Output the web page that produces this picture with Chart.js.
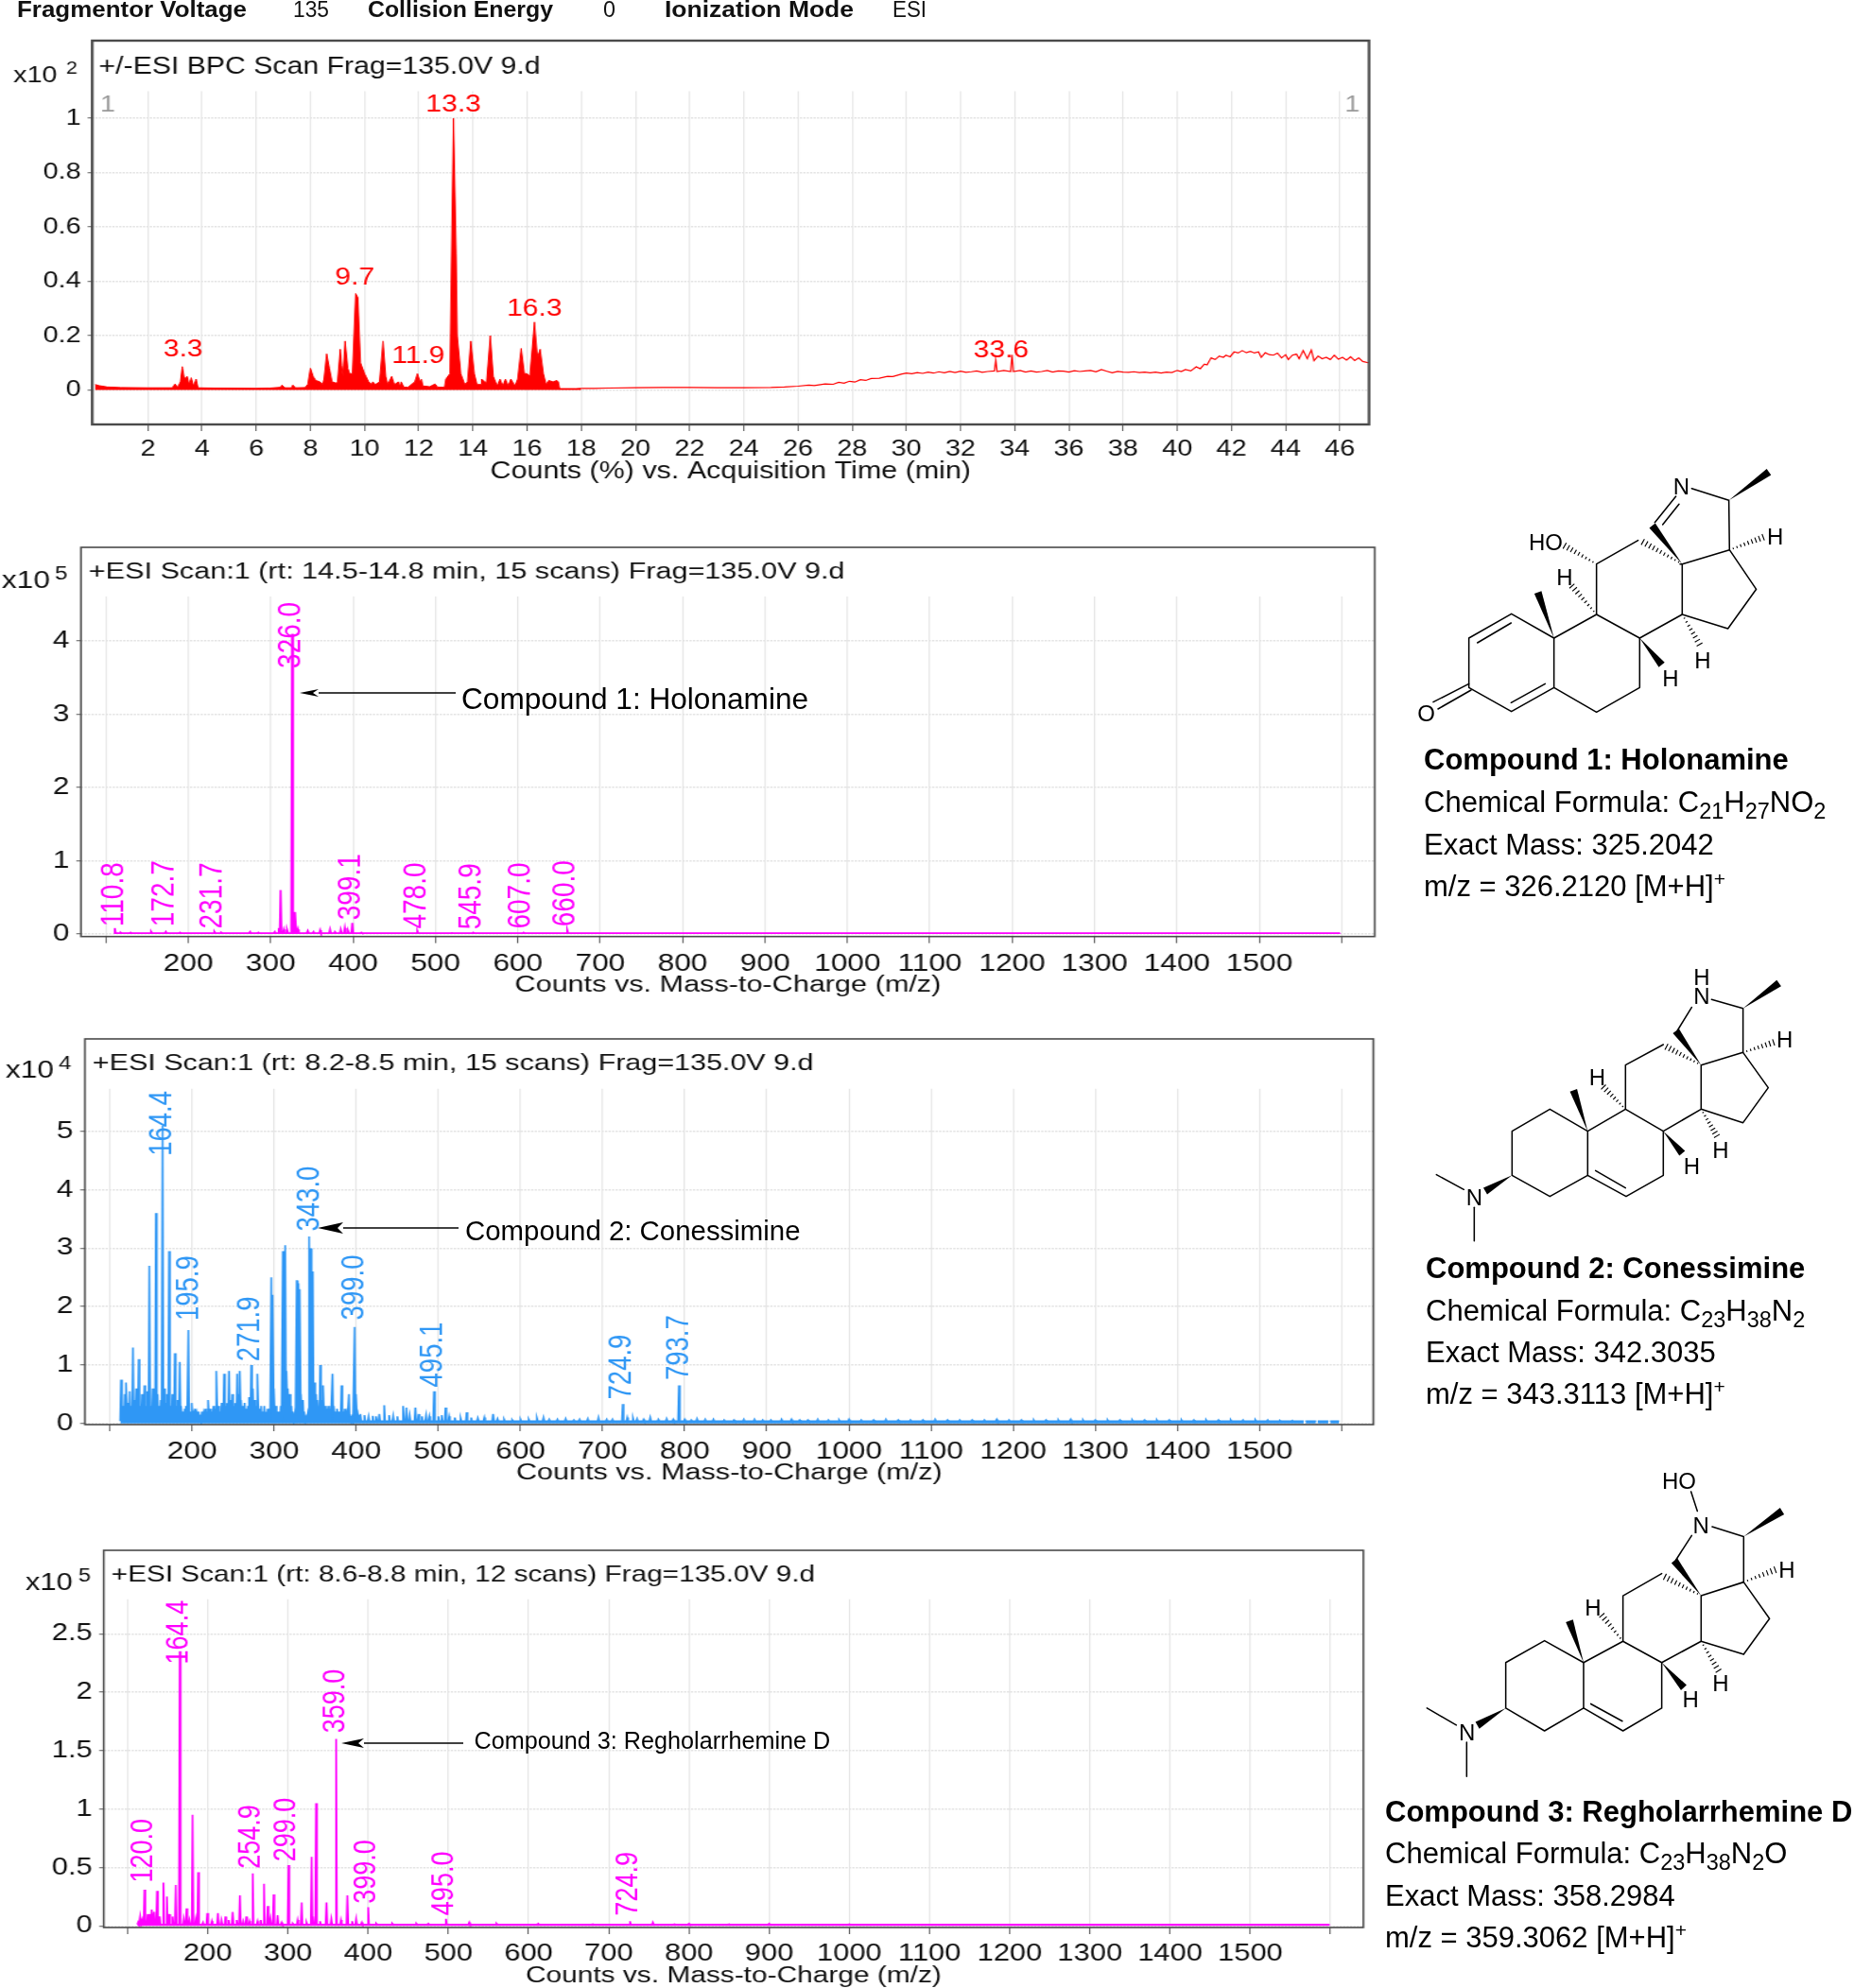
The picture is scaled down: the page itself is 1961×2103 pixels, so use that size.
<!DOCTYPE html>
<html>
<head>
<meta charset="utf-8">
<title>Spectra</title>
<script src="https://cdn.jsdelivr.net/npm/chart.js@4"></script>
<style>
html, body { margin: 0; background: #fff; }
#page { position: relative; width: 1961px; height: 2103px; overflow: hidden; background: #fff; }
canvas { position: absolute; left: 0; transform-origin: 0 0; }
svg { position: absolute; left: 0; top: 0; }
</style>
</head>
<body>
<div id="page"></div>
<script>
// --- tick values
const timeTicks = [2,4,6,8,10,12,14,16,18,20,22,24,26,28,30,32,34,36,38,40,42,44,46];
const mzTicks = [100,200,300,400,500,600,700,800,900,1000,1100,1200,1300,1400,1500,1600];
const mzUnlabelled = [100,1600];
const bpcYTicks = [0,0.2,0.4,0.6,0.8,1];
const holoYTicks = [0,1,2,3,4];
const coneYTicks = [0,1,2,3,4,5];
const regYTicks = [0,0.5,1,1.5,2,2.5];

// --- chromatogram (BPC), x10^2 counts vs minutes
const bpcTime = [0.05,0.2,0.5,1,2,2.9,3.0,3.1,3.2,3.27,3.35,3.45,3.52,3.6,3.68,3.78,3.85,4.5,6,6.5,6.9,6.95,7.05,7.3,7.35,7.45,7.8,7.9,8.0,8.1,8.2,8.35,8.45,8.5,8.6,8.7,8.8,8.95,9.0,9.1,9.15,9.2,9.28,9.38,9.45,9.55,9.67,9.75,9.85,10.0,10.15,10.25,10.3,10.4,10.55,10.68,10.78,10.85,11,11.1,11.25,11.3,11.35,11.45,11.6,11.85,11.95,12.05,12.1,12.15,12.4,12.6,12.7,12.95,13.0,13.15,13.28,13.38,13.42,13.55,13.7,13.8,13.92,14.05,14.15,14.3,14.32,14.5,14.64,14.75,14.9,15,15.1,15.2,15.3,15.4,15.55,15.65,15.78,15.9,16.0,16.1,16.27,16.38,16.48,16.6,16.7,16.8,16.95,17.1,17.15,17.2,17.8,18];
const bpcCounts = [0.02,0.016,0.011,0.009,0.008,0.008,0.022,0.01,0.03,0.086,0.04,0.05,0.02,0.045,0.015,0.04,0.008,0.007,0.006,0.007,0.01,0.018,0.008,0.008,0.018,0.008,0.009,0.02,0.08,0.05,0.035,0.03,0.02,0.04,0.133,0.08,0.03,0.025,0.03,0.15,0.09,0.05,0.18,0.08,0.06,0.06,0.355,0.34,0.1,0.06,0.03,0.02,0.03,0.02,0.03,0.18,0.05,0.02,0.05,0.02,0.03,0.012,0.03,0.01,0.01,0.03,0.06,0.03,0.04,0.015,0.012,0.022,0.01,0.01,0.04,0.06,1.0,0.5,0.2,0.06,0.02,0.03,0.18,0.06,0.02,0.02,0.04,0.025,0.2,0.05,0.015,0.04,0.015,0.04,0.015,0.04,0.015,0.04,0.153,0.06,0.06,0.05,0.25,0.12,0.15,0.06,0.02,0.035,0.03,0.035,0.03,0.005,0.005,0.006];
const driftTime = [18,18.5,19,20,21,22,23,24,25,25.5,26,26.4,26.6,27,27.3,27.5,27.7,27.9,28.1,28.3,28.5,28.7,29,29.3,29.5,29.8,30,30.2,30.4,30.6,30.8,31,31.2,31.4,31.6,31.8,32,32.2,32.4,32.6,32.8,33,33.25,33.3,33.35,33.6,33.85,33.9,33.95,34.2,34.4,34.6,34.8,35,35.2,35.4,35.6,35.8,36,36.2,36.4,36.6,36.8,37,37.2,37.4,37.6,37.8,38,38.2,38.4,38.6,38.8,39,39.2,39.4,39.6,39.8,40,40.15,40.3,40.5,40.7,40.85,41,41.1,41.25,41.4,41.55,41.7,41.8,41.95,42.1,42.25,42.4,42.55,42.7,42.85,43,43.1,43.25,43.4,43.55,43.7,43.85,44,44.1,44.25,44.4,44.5,44.65,44.8,44.95,45.05,45.2,45.35,45.5,45.65,45.8,45.95,46.1,46.25,46.4,46.55,46.7,46.85,47.05];
const driftCounts = [0.006,0.006,0.007,0.008,0.009,0.009,0.008,0.008,0.009,0.011,0.014,0.018,0.016,0.022,0.021,0.028,0.025,0.032,0.029,0.038,0.035,0.042,0.043,0.05,0.049,0.058,0.062,0.06,0.064,0.061,0.066,0.062,0.067,0.063,0.068,0.064,0.069,0.065,0.067,0.07,0.065,0.068,0.07,0.11,0.068,0.072,0.068,0.13,0.068,0.072,0.066,0.07,0.066,0.068,0.072,0.066,0.07,0.069,0.066,0.071,0.068,0.07,0.072,0.067,0.075,0.069,0.063,0.068,0.066,0.065,0.067,0.064,0.066,0.063,0.066,0.062,0.066,0.064,0.072,0.068,0.075,0.07,0.085,0.078,0.095,0.092,0.118,0.112,0.125,0.12,0.128,0.122,0.14,0.136,0.145,0.137,0.142,0.136,0.14,0.12,0.137,0.13,0.128,0.136,0.118,0.13,0.112,0.128,0.132,0.115,0.145,0.115,0.147,0.108,0.125,0.115,0.12,0.112,0.128,0.113,0.12,0.11,0.122,0.108,0.118,0.105,0.1];
const bpcLabels = ['3.3','9.7','11.9','13.3','16.3','33.6'];
const bpcLabelX = [3.3,9.64,11.98,13.28,16.27,33.5];
const bpcLabelY = [0.103,0.368,0.078,1.006,0.255,0.1];

// --- compound 1 spectrum, x10^5
const holoMz = [110.8,118,130,155,172.7,190,231.7,240,275,285,305,310,312,316,320,326,328,330,333,345,352,360,372,378,385,390,394,399.1,410,478,520,545.9,607,660,1598];
const holoInt = [0.08,0.02,0.02,0.03,0.03,0.02,0.03,0.02,0.03,0.02,0.03,0.08,0.6,0.06,0.05,4.1,0.3,0.3,0.06,0.04,0.03,0.05,0.06,0.03,0.06,0.08,0.04,0.15,0.02,0.04,0.015,0.02,0.02,0.05,0.012];
const holoLabels = ['110.8','172.7','231.7','326.0','399.1','478.0','545.9','607.0','660.0'];
const holoLabelX = [110,171,229.8,324.6,397.8,476.7,544,604,658];
const holoLabelY = [0.1,0.1,0.07,3.63,0.19,0.07,0.06,0.07,0.1];

// --- compound 2 spectrum, x10^4
const coneMz = [113.5,116,118,120,122,124,126,128,130,132,133,135,137,139,141,142,144,146,148,150,152,154,156,158,160,162,164,166,168,170,172,174,176,177,179,181,183,185,187,189,191,193,195.5,198,200,202,204,206,208,210,212,214,216,218,220,222,224,226,228,230,232,234,236,239,241,243,245,247,249,251,253,255,257,258.5,260,262,264,266,268,270,272,274,276,278,280,282,284,286,288,290,292,294,296.5,298.5,300,302,304,306,308,310.6,313.5,315.5,317,319,321,323,325,327.5,329.5,331.5,333,335,337,339,341,343,344.5,347,349,351,353,356,358,360,362,364,366,368,371,373,375,377,379,382,384,386,388,391,393,395,398,400,402,405,410,415,420,424,428,434,440,445,450,457,461,465,472,476,480,485,489,494.7,500,504,508.7,513,520,527,534.4,540,548,556,566.6,572,580,590,600,610,620,628,635,645,655,665,672,682,695,705,712,724.5,730,737,742,750,758,768,778,786,793,800,808,815,825,835,848,860,872,885,895,905,918,930,940,950,962,975,988,1000,1015,1030,1045,1060,1075,1090,1105,1120,1135,1150,1165,1180,1195,1210,1225,1240,1255,1270,1285,1300,1315,1330,1345,1360,1375,1390,1405,1420,1435,1450,1465,1480,1495,1510,1525,1540,1555,1570,1585,1598];
const coneInt = [0.75,0.3,0.5,0.7,0.35,0.55,0.3,1.3,0.4,0.6,0.35,1.1,0.3,0.5,0.4,0.65,0.3,0.55,2.7,0.3,0.6,0.3,3.6,0.5,0.3,0.4,5.1,0.6,0.35,0.5,2.95,0.3,0.5,0.25,1.2,0.3,0.4,1.05,0.3,0.2,0.25,0.3,1.6,0.2,0.35,0.15,0.25,0.15,0.2,0.15,0.2,0.15,0.25,0.2,0.4,0.25,0.2,0.3,0.25,0.9,0.3,0.2,0.35,0.85,0.3,0.35,0.9,0.4,0.5,0.3,0.35,0.85,0.5,0.9,0.4,0.3,0.35,0.25,0.3,0.45,1.0,0.6,0.4,0.3,0.85,0.25,0.3,0.2,0.3,0.2,0.25,0.15,2.5,2.2,0.6,0.3,0.2,0.2,0.3,2.95,3.05,0.9,0.6,0.5,0.3,0.2,0.15,2.45,2.4,2.3,0.5,0.4,0.2,0.1,0.15,3.2,3.0,2.6,0.7,0.5,0.4,1.0,0.4,0.65,0.3,0.25,0.3,0.25,0.85,0.3,0.2,0.25,0.2,0.65,0.2,0.25,0.15,0.5,0.15,0.1,1.65,0.5,0.14,0.16,0.14,0.12,0.13,0.12,0.16,0.31,0.14,0.13,0.12,0.3,0.27,0.14,0.27,0.16,0.12,0.14,0.12,0.55,0.12,0.14,0.27,0.12,0.1,0.09,0.19,0.1,0.09,0.1,0.16,0.08,0.07,0.06,0.07,0.07,0.09,0.1,0.07,0.07,0.08,0.06,0.07,0.08,0.1,0.07,0.07,0.33,0.1,0.09,0.08,0.07,0.1,0.07,0.08,0.07,0.65,0.07,0.06,0.08,0.07,0.07,0.06,0.06,0.07,0.07,0.06,0.06,0.07,0.07,0.06,0.06,0.07,0.06,0.06,0.07,0.06,0.06,0.07,0.06,0.06,0.06,0.07,0.06,0.06,0.06,0.06,0.07,0.06,0.06,0.06,0.06,0.06,0.07,0.06,0.06,0.06,0.06,0.06,0.06,0.06,0.06,0.06,0.06,0.06,0.06,0.06,0.06,0.06,0.06,0.05,0.05];
const coneLabels = ['164.4','195.9','271.9','343.0','399.0','495.1','724.9','793.7'];
const coneLabelX = [164,195.9,271.5,343,398.5,494,724,793];
const coneLabelY = [4.58,1.76,1.06,3.29,1.77,0.62,0.41,0.74];

// --- compound 3 spectrum, x10^5
const regMz = [113,115.6,118,121,125,128,130,133,136.7,140,144.6,149,152,156,160,165,170,173.5,177,181,185,188,194,199.4,205,212.6,217,222,226,231,236,240,244,248,252,256,262,266,270,274.7,278,282,287,292,300.6,306,312,317,323,329.5,331,335,340,348,354,360,366,374,380,385,392,400,410,430,460,475,497,526,560,612,680,726.5,755,782,800,850,900,1000,1100,1200,1300,1400,1500,1598];
const regInt = [0.03,0.08,0.05,0.31,0.1,0.1,0.14,0.12,0.3,0.08,0.37,0.25,0.1,0.08,0.35,2.35,0.06,0.15,0.05,0.95,0.06,0.46,0.03,0.11,0.04,0.11,0.05,0.08,0.05,0.12,0.05,0.26,0.04,0.08,0.04,0.45,0.04,0.05,0.36,0.17,0.06,0.27,0.09,0.03,0.52,0.02,0.05,0.2,0.03,0.59,0.08,1.05,0.04,0.2,0.06,1.6,0.05,0.26,0.04,0.06,0.03,0.16,0.02,0.02,0.02,0.02,0.06,0.03,0.02,0.02,0.015,0.04,0.03,0.015,0.02,0.015,0.02,0.015,0.012,0.012,0.012,0.012,0.012,0.01];
const regLabels = ['120.0','164.4','254.9','299.0','359.0','399.0','495.0','724.9'];
const regLabelX = [120,164,254.5,299,359,398.5,495,725];
const regLabelY = [0.37,2.24,0.49,0.55,1.65,0.19,0.09,0.086];

// turn stick lists into a profile the line dataset can draw
function sticks(mz, vals, floor, halfWidth) {
    const pts = [];
    mz.forEach((m, i) => {
        pts.push({ x: m - halfWidth, y: floor }, { x: m, y: vals[i] }, { x: m + halfWidth, y: floor });
    });
    return pts;
}
function pairs(xs, ys) {
    return xs.map((x, i) => ({ x: x, y: ys[i] }));
}

const FONT = '"Liberation Sans", Arial, sans-serif';
const page = document.getElementById('page');

// draws frame, header, multiplier and peak labels on top of what Chart.js draws
const panelDecor = {
    id: 'panelDecor',
    afterDatasetsDraw(chart, args, o) {
        const ctx = chart.ctx, a = chart.chartArea;
        const s = o.stretch, toX = v => v / s, toY = v => v - o.top;
        ctx.save();
        ctx.fillStyle = o.color;
        ctx.font = o.labelSize + 'px ' + FONT;
        o.labels.forEach((t, i) => {
            const x = chart.scales.x.getPixelForValue(o.labelX[i]);
            const y = chart.scales.y.getPixelForValue(o.labelY[i]);
            ctx.save();
            ctx.translate(x, y);
            if (o.rotated) {
                ctx.rotate(-Math.PI / 2);
                ctx.textAlign = 'left';
                ctx.textBaseline = 'middle';
            } else {
                ctx.textAlign = 'center';
                ctx.textBaseline = 'bottom';
            }
            ctx.fillText(t, 0, 0);
            ctx.restore();
        });
        ctx.restore();
        ctx.save();
        ctx.strokeStyle = '#4a4a4a';
        ctx.lineWidth = o.frame;
        ctx.strokeRect(a.left, toY(o.boxTop), a.right - a.left, a.bottom - toY(o.boxTop));
        ctx.fillStyle = '#111';
        ctx.textBaseline = 'middle';
        ctx.textAlign = 'left';
        ctx.font = o.headerSize + 'px ' + FONT;
        ctx.fillText(o.header, a.left + toX(o.headerDx), toY(o.boxTop + o.headerDy));
        ctx.font = o.fontSize + 'px ' + FONT;
        ctx.fillText('x10', toX(o.multX), toY(o.multY));
        ctx.font = (o.fontSize - 6) + 'px ' + FONT;
        ctx.fillText(o.exponent, toX(o.multX + 56), toY(o.multY - 7));
        if (o.corner) {
            ctx.fillStyle = '#9a9a9a';
            ctx.font = '24px ' + FONT;
            ctx.fillText('1', a.left + 7, toY(o.boxTop + 68));
            ctx.textAlign = 'right';
            ctx.fillText('1', a.right - 8, toY(o.boxTop + 68));
        }
        ctx.restore();
    }
};

function addPanel(p) {
    const cv = document.createElement('canvas');
    const w = Math.ceil(1470 / p.stretch), h = p.bottom - p.top;
    cv.width = w;
    cv.height = h;
    cv.style.top = p.top + 'px';
    cv.style.transform = 'scaleX(' + p.stretch + ')';
    page.appendChild(cv);
    new Chart(cv.getContext('2d'), {
        type: 'line',
        data: { datasets: p.datasets },
        plugins: [panelDecor],
        options: {
            responsive: false,
            animation: false,
            devicePixelRatio: 1,
            parsing: false,
            normalized: true,
            elements: { point: { radius: 0 }, line: { tension: 0 } },
            layout: { padding: { left: 0, right: w - p.right / p.stretch, top: p.gridTop - p.top, bottom: 0 } },
            plugins: {
                legend: { display: false },
                tooltip: { enabled: false },
                panelDecor: {
                    stretch: p.stretch, top: p.top, boxTop: p.boxTop, frame: p.frame, color: p.color,
                    header: p.header, headerDx: p.headerDx, headerDy: p.headerDy, headerSize: p.headerSize,
                    multX: p.multX, multY: p.multY, exponent: p.exponent,
                    labels: p.labels, labelX: p.labelX, labelY: p.labelY, rotated: p.rotated,
                    labelSize: p.labelSize, fontSize: p.fontSize, corner: p.corner
                }
            },
            scales: {
                x: {
                    type: 'linear', bounds: 'data', min: p.xMin, max: p.xMax,
                    border: { display: false },
                    grid: { color: '#e6e6e6', lineWidth: 1.2, tickColor: '#555', tickLength: 7, tickWidth: 1 },
                    ticks: {
                        autoSkip: false, maxRotation: 0, padding: p.tickPad,
                        color: '#111', font: { family: FONT, size: p.fontSize },
                        callback: v => (mzUnlabelled.includes(v) ? '' : String(v))
                    },
                    title: { display: true, text: p.title, color: '#111', font: { family: FONT, size: p.titleSize }, padding: { top: 0, bottom: 1 } },
                    afterBuildTicks: s => { s.ticks = p.xTicks.map(v => ({ value: v })); },
                    afterFit: s => { s.height = p.bottom - p.boxBottom; }
                },
                y: {
                    type: 'linear', bounds: 'data', min: p.yMin, max: p.yMax,
                    border: { display: false, dash: [2, 1] },
                    grid: { color: '#e4e4e4', lineWidth: 1.5, tickColor: '#555', tickLength: 4, tickWidth: 1 },
                    ticks: {
                        autoSkip: false, padding: 6,
                        color: '#111', font: { family: FONT, size: p.fontSize },
                        callback: v => String(v)
                    },
                    afterBuildTicks: s => { s.ticks = p.yTicks.map(v => ({ value: v })); },
                    afterFit: s => { s.width = p.left / p.stretch; }
                }
            }
        }
    });
}

const RED = '#ff0000', BLUE = '#2f97f5', PINK = '#ff00ff';

addPanel({
    top: 0, bottom: 515, stretch: 1.2, left: 97.5, right: 1448, boxTop: 43, gridTop: 96.5, boxBottom: 449, frame: 2.4,
    xMin: -0.056, xMax: 47.08, xTicks: timeTicks, yMin: -0.127, yMax: 1.1, yTicks: bpcYTicks, tickPad: 5,
    header: '+/-ESI BPC Scan Frag=135.0V 9.d', headerDx: 7, headerDy: 28, headerSize: 25.2, multX: 14, multY: 80, exponent: '2', corner: true,
    title: 'Counts (%) vs. Acquisition Time (min)', titleSize: 25.4, fontSize: 24, labelSize: 25, color: RED,
    labels: bpcLabels, labelX: bpcLabelX, labelY: bpcLabelY, rotated: false,
    datasets: [
        { data: pairs(bpcTime, bpcCounts), borderColor: RED, backgroundColor: RED, borderWidth: 1, fill: 'origin' },
        { data: pairs(driftTime, driftCounts), borderColor: RED, borderWidth: 1.2, fill: false }
    ]
});
addPanel({
    top: 560, bottom: 1058, stretch: 1.24, left: 85.7, right: 1454, boxTop: 579, gridTop: 631, boxBottom: 990.7, frame: 1.6,
    xMin: 69.8, xMax: 1640, xTicks: mzTicks, yMin: -0.035, yMax: 4.61, yTicks: holoYTicks, tickPad: 7,
    header: '+ESI Scan:1 (rt: 14.5-14.8 min, 15 scans) Frag=135.0V 9.d', headerDx: 8, headerDy: 26, headerSize: 24.7, multX: 2, multY: 615, exponent: '5',
    title: 'Counts vs. Mass-to-Charge (m/z)', titleSize: 24.7, fontSize: 25.5, labelSize: 28, color: PINK,
    labels: holoLabels, labelX: holoLabelX, labelY: holoLabelY, rotated: true,
    datasets: [{ data: sticks(holoMz, holoInt, 0.012, 1), borderColor: PINK, backgroundColor: PINK, borderWidth: 1.8, fill: 'origin' }]
});
addPanel({
    top: 1080, bottom: 1574, stretch: 1.24, left: 89.8, right: 1452.6, boxTop: 1099, gridTop: 1151.7, boxBottom: 1507, frame: 1.6,
    xMin: 69.5, xMax: 1638.7, xTicks: mzTicks, yMin: -0.02, yMax: 5.73, yTicks: coneYTicks, tickPad: 7,
    header: '+ESI Scan:1 (rt: 8.2-8.5 min, 15 scans) Frag=135.0V 9.d', headerDx: 8, headerDy: 26, headerSize: 24.6, multX: 6, multY: 1133, exponent: '4',
    title: 'Counts vs. Mass-to-Charge (m/z)', titleSize: 24.7, fontSize: 25.5, labelSize: 27.5, color: BLUE,
    labels: coneLabels, labelX: coneLabelX, labelY: coneLabelY, rotated: true,
    datasets: [{ data: sticks(coneMz, coneInt, 0.04, 1), borderColor: BLUE, backgroundColor: BLUE, borderWidth: 1.6, fill: 'origin' }]
});
addPanel({
    top: 1620, bottom: 2106, stretch: 1.21, left: 109.7, right: 1442, boxTop: 1640, gridTop: 1691.7, boxBottom: 2039, frame: 1.6,
    xMin: 70.2, xMax: 1641, xTicks: mzTicks, yMin: -0.014, yMax: 2.796, yTicks: regYTicks, tickPad: 6,
    header: '+ESI Scan:1 (rt: 8.6-8.8 min, 12 scans) Frag=135.0V 9.d', headerDx: 8, headerDy: 26, headerSize: 24.6, multX: 27, multY: 1675, exponent: '5',
    title: 'Counts vs. Mass-to-Charge (m/z)', titleSize: 24.7, fontSize: 25.5, labelSize: 27, color: PINK,
    labels: regLabels, labelX: regLabelX, labelY: regLabelY, rotated: true,
    datasets: [{ data: sticks(regMz, regInt, 0.012, 1), borderColor: PINK, backgroundColor: PINK, borderWidth: 1.6, fill: 'origin' }]
});

// --- everything that is not a chart: run header, call-outs, structures, captions
let svg = '<svg xmlns="http://www.w3.org/2000/svg" width="1961" height="2103" font-family=\'"Liberation Sans", Arial, sans-serif\'>';

const runHeader = [
    ['Fragmentor Voltage', 18, 243, true], ['135', 310, 38, false], ['Collision Energy', 389, 196, true],
    ['0', 638, 13, false], ['Ionization Mode', 703, 200, true], ['ESI', 944, 36, false]
];
runHeader.forEach(r => {
    svg += `<text x="${r[1]}" y="18" font-size="24" font-weight="${r[3] ? 'bold' : 'normal'}" fill="#111" textLength="${r[2]}" lengthAdjust="spacingAndGlyphs">${r[0]}</text>`;
});

// call-outs: text x, baseline, size, line start x, tip x, head x, y, head half height
const callouts = [
    ['Compound 1: Holonamine', 488, 750, 31.6, 482, 317, 337, 733, 4],
    ['Compound 2: Conessimine', 492, 1312, 29.4, 485, 336, 363, 1299, 6],
    ['Compound 3: Regholarrhemine D', 501.6, 1850, 25.2, 490, 361, 385, 1844, 5]
];
callouts.forEach(c => {
    svg += `<text x="${c[1]}" y="${c[2]}" font-size="${c[3]}" fill="#000">${c[0]}</text>`;
    svg += `<line x1="${c[4]}" y1="${c[7]}" x2="${c[6]}" y2="${c[7]}" stroke="#000" stroke-width="1.5"/>`;
    svg += `<polygon points="${c[5]},${c[7]} ${c[6]},${c[7] - c[8]} ${c[6] - 6},${c[7]} ${c[6]},${c[7] + c[8]}" fill="#000"/>`;
});

const sub = t => `<tspan dy="7" font-size="23.5">${t}</tspan><tspan dy="-7" font-size="31">&#8203;</tspan>`;
const sup = t => `<tspan dy="-11" font-size="21">${t}</tspan>`;
const captions = [
    { x: 1506, y: [814, 859, 904, 948], name: 'Compound 1: Holonamine', formula: 'C' + sub('21') + 'H' + sub('27') + 'NO' + sub('2'), mass: '325.2042', mz: '326.2120' },
    { x: 1508, y: [1352, 1397, 1441, 1485], name: 'Compound 2: Conessimine', formula: 'C' + sub('23') + 'H' + sub('38') + 'N' + sub('2'), mass: '342.3035', mz: '343.3113' },
    { x: 1465, y: [1927, 1971, 2016, 2060], name: 'Compound 3: Regholarrhemine D', formula: 'C' + sub('23') + 'H' + sub('38') + 'N' + sub('2') + 'O', mass: '358.2984', mz: '359.3062' }
];
captions.forEach(c => {
    svg += `<text x="${c.x}" y="${c.y[0]}" font-size="31" font-weight="bold" fill="#000">${c.name}</text>`;
    svg += `<text x="${c.x}" y="${c.y[1]}" font-size="31" fill="#000">Chemical Formula: ${c.formula}</text>`;
    svg += `<text x="${c.x}" y="${c.y[2]}" font-size="31" fill="#000">Exact Mass: ${c.mass}</text>`;
    svg += `<text x="${c.x}" y="${c.y[3]}" font-size="31" fill="#000">m/z = ${c.mz} [M+H]${sup('+')}</text>`;
});

// skeletal formulas, in crop units
function structure(ox, oy, sy, s) {
    let g = `<g transform="translate(${ox},${oy}) scale(0.3333,${sy})" stroke="#000" stroke-width="4.6" fill="none" stroke-linecap="round">`;
    s.chains.forEach(c => {
        g += `<polyline stroke-linejoin="round" points="${c.join(' ')}"/>`;
    });
    s.wedges.forEach(w => {
        const dx = w[2] - w[0], dy = w[3] - w[1], len = Math.hypot(dx, dy), nx = -dy / len * 12, ny = dx / len * 12;
        g += `<polygon fill="#000" stroke="none" points="${w[0]},${w[1]} ${w[2] + nx},${w[3] + ny} ${w[2] - nx},${w[3] - ny}"/>`;
    });
    s.hashes.forEach(h => {
        const dx = h[2] - h[0], dy = h[3] - h[1], len = Math.hypot(dx, dy), n = Math.round(len / 13);
        for (let i = 1; i <= n; i++) {
            const t = i / n, cx = h[0] + dx * t, cy = h[1] + dy * t, hw = 1.5 + 9 * t;
            const nx = -dy / len * hw, ny = dx / len * hw;
            g += `<line stroke-width="3.4" stroke-linecap="butt" x1="${cx + nx}" y1="${cy + ny}" x2="${cx - nx}" y2="${cy - ny}"/>`;
        }
    });
    s.atoms.forEach(a => {
        g += `<text x="${a[1]}" y="${a[2]}" font-size="72" fill="#000" stroke="none" text-anchor="middle" dominant-baseline="central">${a[0]}</text>`;
    });
    return g + '</g>';
}

svg += structure(1461, 470, 0.3333, {
    chains: [
        [[948,380],[955,380],[1105,335],[1190,460],[1100,585],[955,540],[955,380]],
        [[278,772],[278,615],[413,538],[548,615],[548,772],[413,848],[278,772]],
        [[305,630],[412,567]], [[412,820],[520,760]],
        [[278,760],[165,818]], [[285,780],[180,840]],
        [[548,615],[683,540],[820,615],[820,772],[683,850],[548,772]],
        [[683,540],[683,380],[815,305]], [[820,615],[955,540]],
        [[868,248],[935,165]], [[893,255],[945,190]],
        [[985,140],[1103,178],[1105,335]]
    ],
    wedges: [[548,615,497,470],[955,380,860,258],[1103,178,1230,88],[820,615,890,700]],
    hashes: [[955,380,830,310],[1105,335,1212,295],[683,380,582,322],[683,540,605,450],[955,540,1010,635]],
    atoms: [['N',952,135],['H',1250,292],['HO',522,310],['H',582,422],['H',918,742],['H',1020,685],['O',143,855]]
});
svg += structure(1461, 1000, 0.3333, {
    chains: [
        [[655,590],[535,520],[415,590],[415,730],[535,797],[655,730],[655,590]],
        [[655,590],[775,520],[895,590],[895,730],[777,797],[655,730]],
        [[680,715],[775,770]],
        [[775,520],[775,380],[895,315]], [[895,590],[1015,520],[1015,380],[1148,340],[1228,452],[1148,563],[1015,520]],
        [[940,270],[985,197]], [[1048,172],[1148,200],[1148,340]],
        [[262,775],[175,728]], [[295,832],[295,938]]
    ],
    wedges: [[655,590,610,460],[1015,380,935,272],[1148,200,1262,120],[895,590,955,660],[415,730,330,780]],
    hashes: [[1015,380,905,322],[1148,340,1245,308],[775,520,705,450],[1015,520,1065,605]],
    atoms: [['N',1017,160],['H',1017,100],['H',1280,300],['H',685,418],['H',985,700],['H',1077,650],['N',295,800]]
});
svg += structure(1461, 1540, 0.3444, {
    chains: [
        [[642,635],[518,568],[395,635],[395,775],[518,845],[642,775],[642,635]],
        [[642,635],[767,570],[890,635],[890,775],[767,845],[642,775]],
        [[665,762],[765,815]],
        [[767,570],[767,430],[890,362]], [[890,635],[1015,570],[1015,430],[1150,388],[1232,500],[1150,610],[1015,570]],
        [[935,320],[985,245]], [[1050,218],[1150,248],[1150,388]],
        [[1003,170],[983,110]],
        [[238,827],[145,775]], [[271,880],[271,985]]
    ],
    wedges: [[642,635,597,507],[1015,430,930,322],[1150,248,1272,170],[890,635,960,712],[395,775,305,828]],
    hashes: [[1015,430,900,372],[1150,388,1250,350],[767,570,700,490],[1015,570,1070,660]],
    atoms: [['N',1015,212],['HO',945,78],['H',1287,350],['H',672,467],['H',982,748],['H',1077,697],['N',272,850]]
});
svg += '</svg>';
page.insertAdjacentHTML('beforeend', svg);
</script>
</body>
</html>
